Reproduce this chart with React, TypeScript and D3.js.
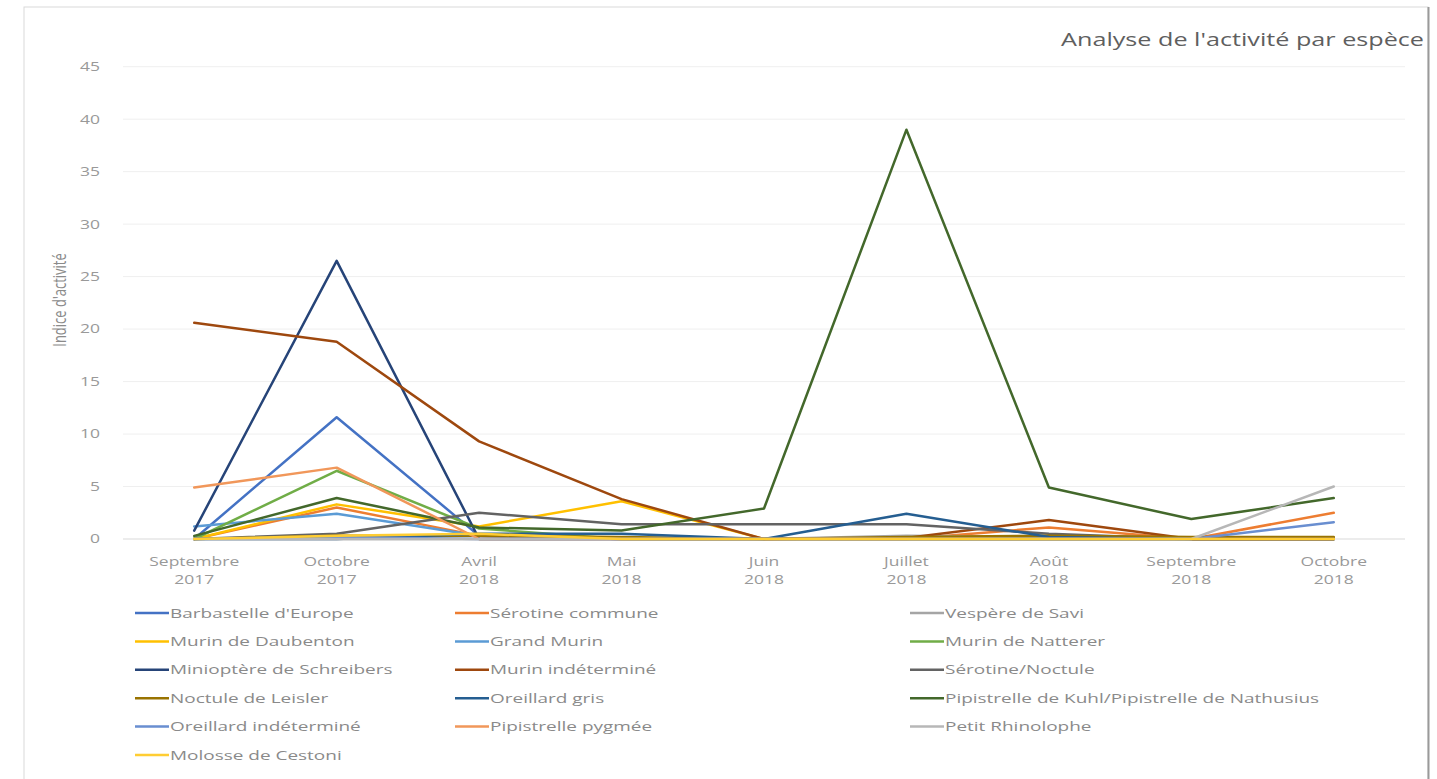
import React from "react";
import * as d3 from "d3";

const categories: string[][] = [
  ["Septembre", "2017"],
  ["Octobre", "2017"],
  ["Avril", "2018"],
  ["Mai", "2018"],
  ["Juin", "2018"],
  ["Juillet", "2018"],
  ["Août", "2018"],
  ["Septembre", "2018"],
  ["Octobre", "2018"],
];

const yTicks = [0, 5, 10, 15, 20, 25, 30, 35, 40, 45];

const seriesNames = [
  "Barbastelle d'Europe",
  "Sérotine commune",
  "Vespère de Savi",
  "Murin de Daubenton",
  "Grand Murin",
  "Murin de Natterer",
  "Minioptère de Schreibers",
  "Murin indéterminé",
  "Sérotine/Noctule",
  "Noctule de Leisler",
  "Oreillard gris",
  "Pipistrelle de Kuhl/Pipistrelle de Nathusius",
  "Oreillard indéterminé",
  "Pipistrelle pygmée",
  "Petit Rhinolophe",
  "Molosse de Cestoni",
];

const seriesColors = [
  "#4472C4", "#ED7D31", "#A5A5A5", "#FFC000", "#5B9BD5", "#70AD47",
  "#264478", "#9E480E", "#636363", "#997300", "#255E91", "#43682B",
  "#698ED0", "#F1975A", "#B7B7B7", "#FFCD33",
];

const barbastelle = [0, 11.6, 0.3, 0, 0, 0, 0, 0, 0];
const serotineCommune = [0, 3.0, 0.3, 0, 0, 0, 1.1, 0, 2.5];
const vespereSavi = [0, 0, 0, 0, 0, 0.3, 0.2, 0, 0];
const murinDaubenton = [0, 3.3, 1.2, 3.6, 0, 0, 0, 0, 0];
const grandMurin = [1.2, 2.4, 0.3, 0, 0, 0, 0, 0, 0];
const murinNatterer = [0, 6.5, 1.0, 0, 0, 0, 0, 0, 0];
const minioptere = [0.8, 26.5, 0, 0, 0, 0, 0, 0, 0];
const murinIndetermine = [20.6, 18.8, 9.3, 3.8, 0, 0.1, 1.8, 0, 0];
const serotineNoctule = [0, 0.5, 2.5, 1.4, 1.4, 1.4, 0.5, 0, 0];
const noctuleLeisler = [0, 0.3, 0.3, 0.2, 0, 0.2, 0.3, 0.2, 0.2];
const oreillardGris = [0, 0, 0.5, 0.5, 0, 2.4, 0.2, 0, 0];
const pipistrelleKuhl = [0.3, 3.9, 1.1, 0.8, 2.9, 39, 4.9, 1.9, 3.9];
const oreillardIndetermine = [0, 0.2, 0, 0, 0, 0, 0, 0, 1.6];
const pipistrellePygmee = [4.9, 6.8, 0, 0, 0, 0, 0, 0, 0];
const petitRhinolophe = [0, 0, 0, 0, 0, 0, 0, 0, 5.0];
const molosseCestoni = [0, 0.3, 0.5, 0, 0, 0, 0, 0, 0];

const seriesValues = [
  barbastelle, serotineCommune, vespereSavi, murinDaubenton, grandMurin,
  murinNatterer, minioptere, murinIndetermine, serotineNoctule, noctuleLeisler,
  oreillardGris, pipistrelleKuhl, oreillardIndetermine, pipistrellePygmee,
  petitRhinolophe, molosseCestoni,
];

const FONT = "'Open Sans', 'DejaVu Sans', sans-serif";
const SX = 1.4;

function WideText(props: {
  x: number; y: number; size: number; fill: string;
  anchor?: "start" | "middle" | "end"; children: React.ReactNode; sx?: number;
}) {
  const sx = props.sx ?? SX;
  return (
    <g transform={`translate(${props.x},${props.y}) scale(${sx},1)`}>
      <text
        x={0}
        y={0}
        dy="0.35em"
        textAnchor={props.anchor || "start"}
        fontFamily={FONT}
        fontSize={props.size}
        fill={props.fill}
      >
        {props.children}
      </text>
    </g>
  );
}

export default function App() {
  const W = 1437, H = 779;
  const x = d3
    .scalePoint<number>()
    .domain(categories.map((_, i) => i))
    .range([123, 1405])
    .padding(0.5);
  const y = d3.scaleLinear().domain([0, 45]).range([539, 66.7]);
  const line = d3
    .line<number>()
    .x((_, i) => x(i) as number)
    .y((d) => y(d));

  const legendCols = [135, 455, 910];
  const legendY0 = 613;
  const legendDy = 28.4;

  return (
    <svg
      width={W}
      height={H}
      style={{ position: "absolute", left: 0, top: 0, background: "#fff" }}
    >
      <rect x={0} y={0} width={W} height={H} fill="#fff" />
      <rect x={24} y={7} width={1404} height={800} fill="#fff" stroke="#d9d9d9" strokeWidth={1} />
      <line x1={1428.5} x2={1428.5} y1={7} y2={H} stroke="#9a9a9a" strokeWidth={2} />

      <WideText x={1424} y={40} size={18} fill="#5f5f5f" anchor="end">
        Analyse de l'activité par espèce
      </WideText>

      {yTicks.map((t) => (
        <g key={t}>
          <line x1={123} x2={1405} y1={y(t)} y2={y(t)} stroke={t === 0 ? "#d9d9d9" : "#efefef"} strokeWidth={1} />
          <WideText x={100} y={y(t)} size={12.5} fill="#999999" anchor="end">
            {t}
          </WideText>
        </g>
      ))}

      <text
        transform={`translate(66,300) rotate(-90) scale(1,1.4)`}
        textAnchor="middle"
        fontFamily={FONT}
        fontSize={13}
        fill="#8a8a8a"
      >
        Indice d'activité
      </text>

      {categories.map((c, i) => (
        <g key={i}>
          <WideText x={x(i) as number} y={562} size={12.5} fill="#999999" anchor="middle">
            {c[0]}
          </WideText>
          <WideText x={x(i) as number} y={580} size={12.5} fill="#999999" anchor="middle">
            {c[1]}
          </WideText>
        </g>
      ))}

      {seriesValues.map((vals, si) => (
        <path
          key={si}
          d={line(vals) || ""}
          fill="none"
          stroke={seriesColors[si]}
          strokeWidth={2.5}
          strokeLinejoin="round"
          strokeLinecap="round"
        />
      ))}

      {seriesNames.map((name, si) => {
        const col = si % 3;
        const row = Math.floor(si / 3);
        const lx = legendCols[col];
        const ly = legendY0 + row * legendDy;
        return (
          <g key={name}>
            <line x1={lx} x2={lx + 34} y1={ly} y2={ly} stroke={seriesColors[si]} strokeWidth={2.5} />
            <WideText x={lx + 35} y={ly} size={13} fill="#8a8a8a" sx={1.46}>
              {name}
            </WideText>
          </g>
        );
      })}
    </svg>
  );
}
